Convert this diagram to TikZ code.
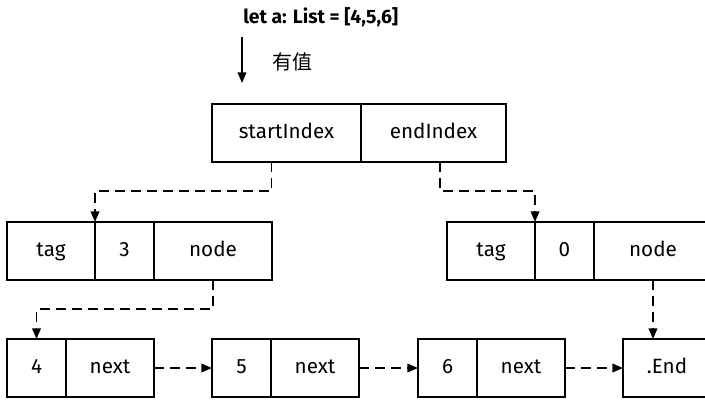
\documentclass[tikz,border=0pt]{standalone}
\usepackage{fontspec}
\setmainfont{Fira Sans}
\newfontfamily\cjk{Noto Sans CJK SC}
\usetikzlibrary{arrows.meta,positioning,calc}

\tikzset{
    cell/.style={draw,line width=1.1pt,inner sep=0pt,outer sep=0pt,minimum height=43.5pt,text height=10.5pt,text depth=2.5pt,font=\fontsize{15.5}{18}\selectfont},
    small/.style={cell,minimum width=44.25pt},
    wide/.style={cell,minimum width=66pt},
    link/.style={line width=1.1pt,dash pattern=on 7.5pt off 4.5pt,-{Triangle[length=8pt,width=6.5pt]}},
}

\begin{document}
\begin{tikzpicture}[x=0.75pt,y=-0.75pt]
    % \draw[thin,gray!40] (0,0) grid[step=50] (705,400);
    \useasboundingbox (0,0) rectangle (705,400);
    \node[anchor=west,inner sep=0pt,font=\fontsize{14.5}{17}\selectfont\bfseries] (title) at (243,17) {let a: List = [4,5,6]};
    \coordinate (vtop) at (242,37);
    \coordinate (vbot) at (242,83);
    \draw[line width=1.1pt,-{Triangle[length=8pt,width=6.5pt]}] (vtop) -- (vbot);
    \node[anchor=west,inner sep=0pt,font=\fontsize{15}{17}\selectfont\cjk] (hasval) at (272,62) {有值};

    % range
    \node[cell,anchor=north west,minimum width=111.75pt] (si) at (212,104) {startIndex};
    \node[cell,right=0pt of si,minimum width=108.75pt] (ei) {endIndex};

    % start index
    \node[wide,anchor=north west] (ltag) at (7,222) {tag};
    \node[small,right=0pt of ltag] (lval) {3};
    \node[cell,right=0pt of lval,minimum width=88.5pt] (lnode) {node};

    % end index
    \node[wide,anchor=north west] (rtag) at (447,222) {tag};
    \node[small,right=0pt of rtag] (rval) {0};
    \node[cell,right=0pt of rval,minimum width=88.5pt] (rnode) {node};

    % list
    \node[small,anchor=north west] (v4) at (7,339) {4};
    \node[wide,right=0pt of v4] (n4) {next};
    \node[small,anchor=north west] (v5) at (212,339) {5};
    \node[wide,right=0pt of v5] (n5) {next};
    \node[small,anchor=north west] (v6) at (418,339) {6};
    \node[wide,right=0pt of v6] (n6) {next};
    \node[wide,anchor=north west] (vend) at (623,339) {.End};

    \draw[link] ($(si.south west)!0.4!(si.south east)$) -- ++(0,29) -| (ltag.north east);
    \draw[link] ($(ei.south west)!0.545!(ei.south east)$) -- ++(0,29) -| (rtag.north east);
    \draw[link] (lnode.south) -- ++(0,29) -| (v4.north);
    \draw[link] (rnode.south) -- (rnode.south |- vend.north);
    \draw[link] (n4.east) -- (v5.west);
    \draw[link] (n5.east) -- (v6.west);
    \draw[link] (n6.east) -- (vend.west);
\end{tikzpicture}
\end{document}
